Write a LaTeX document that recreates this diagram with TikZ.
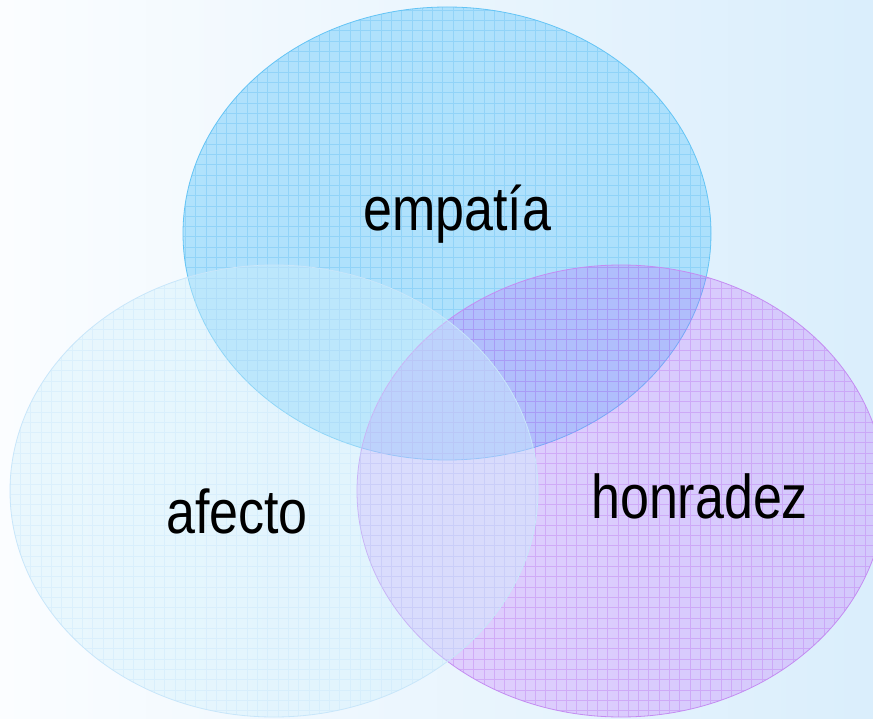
\documentclass[tikz,border=0pt]{standalone}
\usepackage{graphicx}
\usepackage{fontspec}
\setmainfont{Liberation Sans}
\newcommand{\tallword}[1]{\scalebox{1}[1.19]{#1}}
\begin{document}
\begin{tikzpicture}[x=1pt,y=-1pt,
  lbl/.style={anchor=base west,inner sep=0pt,font=\fontsize{52}{60}\selectfont},
  gridlines/.style={line width=0.9pt}]
\definecolor{bgL}{RGB}{251,253,255}
\definecolor{bgR}{RGB}{218,238,252}
\definecolor{topfill}{RGB}{160,220,252}
\definecolor{topgrid}{RGB}{110,196,245}
\definecolor{topedge}{RGB}{100,196,245}
\definecolor{rfill}{RGB}{188,70,255}
\definecolor{rgrid}{RGB}{190,120,240}
\definecolor{redge}{RGB}{196,140,242}
\definecolor{lfill}{RGB}{208,240,252}
\definecolor{lgrid}{RGB}{190,225,250}
\definecolor{ledge}{RGB}{200,230,250}
\useasboundingbox (0,0) rectangle (873,719);
\shade[left color=bgL,right color=bgR] (0,0) rectangle (873,719);
% top ellipse
\coordinate (ct) at (447,233.5);
\fill[topfill,opacity=0.8] (ct) ellipse [x radius=264pt,y radius=226.5pt];
\begin{scope}
  \clip (ct) ellipse [x radius=264pt,y radius=226.5pt];
  \draw[gridlines,topgrid,opacity=0.45,step=10.3pt] (0,0) grid (873,719);
\end{scope}
\draw[topedge,line width=0.8pt] (ct) ellipse [x radius=264pt,y radius=226.5pt];
% right ellipse
\coordinate (cr) at (621,491);
\fill[rfill,opacity=0.22] (cr) ellipse [x radius=264pt,y radius=226pt];
\begin{scope}
  \clip (cr) ellipse [x radius=264pt,y radius=226pt];
  \draw[gridlines,rgrid,opacity=0.4,step=10.3pt] (0,0) grid (873,719);
\end{scope}
\draw[redge,line width=0.8pt] (cr) ellipse [x radius=264pt,y radius=226pt];
% left ellipse
\coordinate (cl) at (274,491);
\fill[lfill,opacity=0.4] (cl) ellipse [x radius=264pt,y radius=226pt];
\begin{scope}
  \clip (cl) ellipse [x radius=264pt,y radius=226pt];
  \draw[gridlines,lgrid,opacity=0.3,step=10.3pt] (0,0) grid (873,719);
\end{scope}
\draw[ledge,line width=0.8pt] (cl) ellipse [x radius=264pt,y radius=226pt];
% labels
\node[lbl] (emp) at (363,231) {\tallword{empatía}};
\node[lbl] (afe) at (166,533) {\tallword{afecto}};
\node[lbl] (hon) at (591,518) {\tallword{honradez}};
\end{tikzpicture}
\end{document}
